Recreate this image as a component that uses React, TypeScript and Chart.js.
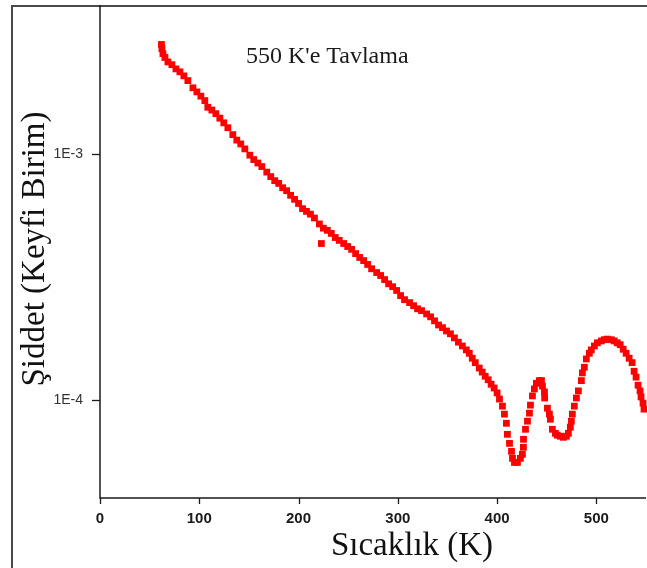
import React, { useEffect, useRef } from "react";
import { Chart, registerables } from "chart.js";

Chart.register(...registerables);

// Temperature (K)
const temps = [
  61.9, 62.4, 63.4, 65.4, 68.4, 72.4, 76.5, 80.5, 84.5, 88.5,
  93.6, 97.6, 101.6, 105.6, 108.6, 112.7, 116.7, 120.7, 124.7, 128.8,
  133.8, 137.8, 141.8, 145.9, 150.9, 154.9, 159, 163, 168, 172,
  176, 180, 184, 188, 192, 196, 200, 204, 208, 212,
  216, 221, 223, 225, 229, 233, 237, 241, 245.5, 249.5,
  253.5, 257.5, 261.6, 265.6, 269.6, 273.6, 278.7, 282.7, 286.7, 290.7,
  294.8, 298.8, 302.8, 306.8, 311.9, 315.9, 319.9, 323.9, 329, 333,
  337, 341, 345, 349, 353, 357, 361, 365, 369, 372,
  375, 378, 382, 385, 388, 391, 394, 397, 400, 402.4,
  405.4, 407.4, 409.4, 410.4, 412.5, 414.5, 415.5, 417.5, 420.5, 423.5,
  425.5, 426.5, 426.6, 428.6, 430.6, 432.6, 433.6, 435.6, 437.6, 439.6,
  442.6, 444.7, 445.7, 447.7, 447.9, 450.7, 452.7, 453.7, 455.7, 458.7,
  460.7, 463.8, 466.8, 469.8, 471.8, 473.8, 474.8, 475.8, 477.8, 479.9,
  481.9, 484.9, 485.9, 487.9, 489.9, 492.9, 494.9, 498, 501, 505,
  508, 511, 515, 518, 521, 524, 527, 530, 533, 536,
  538, 540, 542, 544, 545, 547, 548,
];

// Intensity (arbitrary units)
const intensities = [
  2.79e-3, 2.68e-3, 2.56e-3, 2.47e-3, 2.37e-3, 2.31e-3, 2.22e-3, 2.16e-3, 2.08e-3, 1.99e-3,
  1.86e-3, 1.79e-3, 1.72e-3, 1.65e-3, 1.55e-3, 1.51e-3, 1.46e-3, 1.40e-3, 1.34e-3, 1.28e-3,
  1.20e-3, 1.14e-3, 1.10e-3, 1.05e-3, 9.9e-4, 9.5e-4, 9.2e-4, 8.9e-4, 8.45e-4, 8.1e-4,
  7.8e-4, 7.6e-4, 7.3e-4, 7.1e-4, 6.8e-4, 6.55e-4, 6.3e-4, 6.0e-4, 5.85e-4, 5.7e-4,
  5.5e-4, 5.2e-4, 4.33e-4, 5.0e-4, 4.9e-4, 4.76e-4, 4.58e-4, 4.46e-4, 4.33e-4, 4.21e-4,
  4.1e-4, 3.94e-4, 3.8e-4, 3.69e-4, 3.56e-4, 3.42e-4, 3.3e-4, 3.21e-4, 3.09e-4, 2.97e-4,
  2.89e-4, 2.79e-4, 2.66e-4, 2.56e-4, 2.49e-4, 2.42e-4, 2.35e-4, 2.31e-4, 2.24e-4, 2.18e-4,
  2.10e-4, 2.02e-4, 1.97e-4, 1.91e-4, 1.86e-4, 1.79e-4, 1.72e-4, 1.66e-4, 1.60e-4, 1.55e-4,
  1.48e-4, 1.42e-4, 1.35e-4, 1.30e-4, 1.25e-4, 1.21e-4, 1.16e-4, 1.12e-4, 1.07e-4, 1.01e-4,
  9.45e-5, 8.77e-5, 8.05e-5, 7.26e-5, 6.67e-5, 6.19e-5, 5.8e-5, 5.58e-5, 5.58e-5, 5.8e-5,
  6.02e-5, 6.43e-5, 6.93e-5, 7.61e-5, 8.21e-5, 8.85e-5, 9.54e-5, 1.04e-4, 1.11e-4, 1.17e-4,
  1.20e-4, 1.20e-4, 1.14e-4, 1.08e-4, 1.02e-4, 9.27e-5, 8.77e-5, 8.36e-5, 7.61e-5, 7.33e-5,
  7.2e-5, 7.13e-5, 7.06e-5, 7.13e-5, 7.33e-5, 7.76e-5, 8.21e-5, 8.77e-5, 9.45e-5, 1.02e-4,
  1.09e-4, 1.20e-4, 1.29e-4, 1.36e-4, 1.47e-4, 1.55e-4, 1.60e-4, 1.66e-4, 1.71e-4, 1.74e-4,
  1.76e-4, 1.77e-4, 1.76e-4, 1.74e-4, 1.71e-4, 1.68e-4, 1.61e-4, 1.55e-4, 1.48e-4, 1.42e-4,
  1.31e-4, 1.24e-4, 1.15e-4, 1.09e-4, 1.03e-4, 9.72e-5, 9.19e-5,
];

const yTickValues = [
  4e-5, 5e-5, 6e-5, 7e-5, 8e-5, 9e-5,
  1e-4, 2e-4, 3e-4, 4e-4, 5e-4, 6e-4, 7e-4, 8e-4, 9e-4,
  1e-3, 2e-3, 3e-3, 4e-3,
];
const yMajorTicks = [1e-4, 1e-3];
const yMajorLabels = ["1E-4", "1E-3"];

const xMin = 0;
const xMax = 550;
const xStep = 50;
const xLabelStep = 100;

const xTitle = "Sıcaklık (K)";
const yTitle = "Şiddet (Keyfi Birim)";
const annotation = "550 K'e Tavlama";

const W = 647;
const H = 568;

export default function App() {
  const ref = useRef<HTMLCanvasElement | null>(null);

  useEffect(() => {
    const canvas = ref.current;
    if (!canvas) return;

    const decorPlugin = {
      id: "decor",
      afterDraw(chart: any) {
        const ctx = chart.ctx as CanvasRenderingContext2D;
        const area = chart.chartArea;
        const xs = chart.scales.x;
        const ys = chart.scales.y;
        ctx.save();

        // outer frame (left + top)
        ctx.strokeStyle = "#4a4a4a";
        ctx.lineWidth = 2;
        ctx.beginPath();
        ctx.moveTo(12, H);
        ctx.lineTo(12, 6);
        ctx.lineTo(W, 6);
        ctx.stroke();

        // axes lines
        ctx.strokeStyle = "#1a1a1a";
        ctx.lineWidth = 1.5;
        ctx.beginPath();
        ctx.moveTo(area.left, area.top - 1);
        ctx.lineTo(area.left, area.bottom);
        ctx.lineTo(area.right, area.bottom);
        ctx.stroke();

        // y ticks
        ctx.lineWidth = 1.3;
        ys.ticks.forEach((t: any) => {
          const py = Math.round(ys.getPixelForValue(t.value)) + 0.5;
          const len = yMajorTicks.includes(t.value) ? 8 : 4;
          ctx.beginPath();
          ctx.moveTo(area.left, py);
          ctx.lineTo(area.left - len, py);
          ctx.stroke();
        });
        // x ticks
        xs.ticks.forEach((t: any) => {
          const px = Math.round(xs.getPixelForValue(t.value)) + 0.5;
          const len = t.value % xLabelStep === 0 ? 6 : 4;
          ctx.beginPath();
          ctx.moveTo(px, area.bottom);
          ctx.lineTo(px, area.bottom + len);
          ctx.stroke();
        });

        // axis titles
        ctx.fillStyle = "#111";
        ctx.font = "33px 'Liberation Serif', 'Times New Roman', serif";
        ctx.textAlign = "center";
        ctx.textBaseline = "alphabetic";
        ctx.fillText(xTitle, 412, 555);

        ctx.save();
        ctx.translate(44, 249);
        ctx.rotate(-Math.PI / 2);
        ctx.fillText(yTitle, 0, 0);
        ctx.restore();

        // annotation
        ctx.font = "24px 'Liberation Serif', 'Times New Roman', serif";
        ctx.textAlign = "left";
        ctx.fillStyle = "#1a1a1a";
        ctx.fillText(annotation, 246, 63);

        ctx.restore();
      },
    };

    const chart = new Chart(canvas, {
      type: "scatter",
      data: {
        datasets: [
          {
            label: "Şiddet",
            data: temps.map((t, i) => ({ x: t, y: intensities[i] })),
            pointStyle: "rect",
            pointRadius: 4.8,
            pointBorderWidth: 0,
            backgroundColor: "#ff0000",
            borderColor: "#ff0000",
            showLine: false,
            clip: 10,
          } as any,
        ],
      },
      options: {
        animation: false,
        responsive: false,
        maintainAspectRatio: false,
        layout: { autoPadding: false, padding: { left: 0, top: 6, right: 1, bottom: 0 } },
        plugins: {
          legend: { display: false },
          tooltip: { enabled: false },
          title: { display: false },
        },
        scales: {
          x: {
            type: "linear",
            min: xMin,
            max: xMax,
            grid: { display: false, drawTicks: false },
            border: { display: false },
            ticks: {
              stepSize: xStep,
              autoSkip: false,
              maxRotation: 0,
              padding: 12,
              color: "#1a1a1a",
              font: { family: "'Liberation Sans', Arial, sans-serif", size: 15, weight: "bold" },
              callback: (v: any) => (Number(v) % xLabelStep === 0 ? String(v) : null),
            },
            afterFit: (s: any) => {
              s.height = 70;
              s.paddingLeft = 0;
              s.paddingRight = 0;
            },
          },
          y: {
            type: "logarithmic",
            min: 4e-5,
            max: 4e-3,
            grid: { display: false, drawTicks: false },
            border: { display: false },
            afterBuildTicks: (s: any) => {
              s.ticks = yTickValues.map((v) => ({ value: v }));
            },
            ticks: {
              autoSkip: false,
              padding: 17,
              color: "#333",
              font: { family: "'Liberation Sans', Arial, sans-serif", size: 14 },
              callback: (v: any) => {
                const idx = yMajorTicks.indexOf(Number(v));
                return idx >= 0 ? yMajorLabels[idx] : null;
              },
            },
            afterFit: (s: any) => {
              s.width = 100;
              s.paddingTop = 0;
              s.paddingBottom = 0;
            },
          },
        },
      },
      plugins: [decorPlugin],
    });

    return () => chart.destroy();
  }, []);

  return (
    <div style={{ position: "absolute", left: 0, top: 0, width: W, height: H, background: "#fff" }}>
      <canvas ref={ref} width={W} height={H} style={{ width: W, height: H, display: "block" }} />
    </div>
  );
}
